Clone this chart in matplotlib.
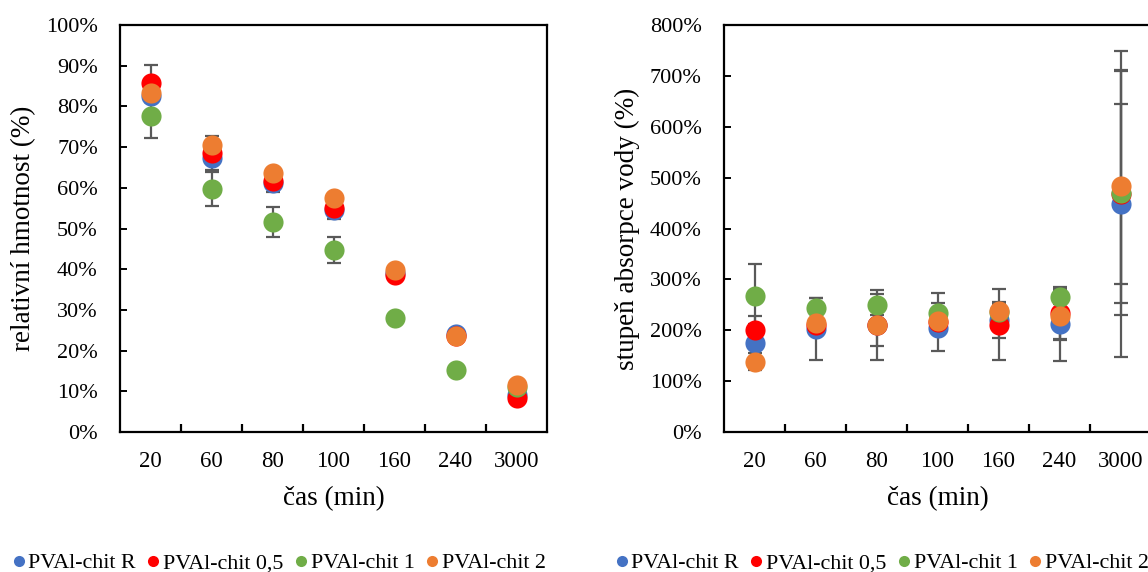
import matplotlib.pyplot as plt
from matplotlib.lines import Line2D
from matplotlib.ticker import FuncFormatter, FixedLocator

plt.rcParams['font.family'] = ['Liberation Serif', 'DejaVu Serif']

categories = ["20", "60", "80", "100", "160", "240", "3000"]
series_names = ["PVAl-chit R", "PVAl-chit 0,5", "PVAl-chit 1", "PVAl-chit 2"]
colors = ["#4472C4", "#FF0000", "#70AD47", "#ED7D31"]

# relative mass (%)
mass_R = [82.6, 67.2, 61.3, 54.5, 39.0, 24.2, 9.0]
mass_05 = [85.7, 68.6, 61.6, 55.0, 38.5, 23.5, 8.3]
mass_1 = [77.7, 59.8, 51.5, 44.8, 27.9, 15.2, 11.0]
mass_2 = [83.2, 70.6, 63.6, 57.5, 39.8, 23.5, 11.5]
mass_err_R = [1.5, 1.0, 1.5, 1.5, 1.0, 1.0, 1.0]
mass_err_05 = [4.4, 4.2, 2.7, 2.6, 1.0, 1.0, 1.0]
mass_err_1 = [5.5, 4.2, 3.7, 3.2, 1.0, 1.0, 1.0]
mass_err_2 = [2.0, 1.0, 1.0, 1.0, 1.0, 1.0, 1.0]

# water absorption degree (%)
abs_R = [175.3, 202.7, 210.6, 204.7, 221.0, 212.6, 448.0]
abs_05 = [201.4, 210.0, 210.0, 216.0, 211.2, 233.5, 468.3]
abs_1 = [267.5, 244.0, 250.5, 233.5, 236.0, 266.2, 469.0]
abs_2 = [138.0, 214.5, 210.6, 219.1, 237.4, 228.9, 482.7]
abs_err_R = [52.0, 61.0, 69.0, 10.0, 35.5, 73.0, 300.0]
abs_err_05 = [10.0, 10.0, 41.0, 56.5, 69.0, 50.5, 176.6]
abs_err_1 = [63.0, 20.0, 20.0, 20.0, 15.0, 15.0, 240.0]
abs_err_2 = [17.0, 10.0, 10.0, 10.0, 15.0, 48.0, 229.0]

mass_vals = [mass_R, mass_05, mass_1, mass_2]
mass_errs = [mass_err_R, mass_err_05, mass_err_1, mass_err_2]
abs_vals = [abs_R, abs_05, abs_1, abs_2]
abs_errs = [abs_err_R, abs_err_05, abs_err_1, abs_err_2]

W, H = 1148, 572
fig = plt.figure(figsize=(W / 100, H / 100), dpi=100)

ax1 = fig.add_axes([120 / W, 1 - 432 / H, 427 / W, 407 / H])
ax2 = fig.add_axes([724 / W, 1 - 432 / H, 427 / W, 407 / H])

x = list(range(len(categories)))
err_color = "#595959"


def draw(ax, vals, errs, ymax, ystep, ylabel):
    for v, e in zip(vals, errs):
        ax.errorbar(x, v, yerr=e, fmt="none", ecolor=err_color, elinewidth=1.6,
                    capsize=4.8, capthick=1.6, zorder=2)
    for i, (v, c) in enumerate(zip(vals, colors)):
        ax.plot(x, v, "o", color=c, markersize=14.5, markeredgewidth=0,
                linestyle="none", zorder=3 + i)
    ax.set_xlim(-0.5, len(categories) - 0.5)
    ax.set_ylim(0, ymax)
    ax.set_yticks([i * ystep for i in range(int(ymax / ystep) + 1)])
    ax.yaxis.set_major_formatter(FuncFormatter(lambda v, p: f"{v:.0f}%"))
    ax.set_xticks(x)
    ax.set_xticklabels(categories)
    ax.xaxis.set_minor_locator(FixedLocator([i + 0.5 for i in range(len(categories) - 1)]))
    ax.tick_params(axis="x", which="major", length=0, pad=14, labelsize=16.5)
    ax.tick_params(axis="x", which="minor", direction="in", length=6, width=1.6, color="black")
    ax.tick_params(axis="y", which="major", direction="in", length=5, width=1.4,
                   color="black", pad=16, labelsize=16)
    for s in ax.spines.values():
        s.set_linewidth(1.6)
        s.set_color("black")
    ax.set_xlabel("čas (min)", fontsize=19.5, labelpad=10)
    ax.set_ylabel(ylabel, fontsize=19.5, labelpad=7)


draw(ax1, mass_vals, mass_errs, 100, 10, "relativní hmotnost (%)")
draw(ax2, abs_vals, abs_errs, 800, 100, "stupeň absorpce vody (%)")

handles = [Line2D([0], [0], marker="o", color=c, linestyle="none", markersize=8,
                  markeredgewidth=0) for c in colors]
for x0 in (12 / W, 615 / W):
    fig.legend(handles, series_names, loc="center left", bbox_to_anchor=(x0, 1 - 563 / H),
               ncol=4, frameon=False, fontsize=15.8, handlelength=0.6, handletextpad=0.14,
               columnspacing=0.5, borderpad=0, borderaxespad=0)

fig.savefig("out.png", dpi=100)
